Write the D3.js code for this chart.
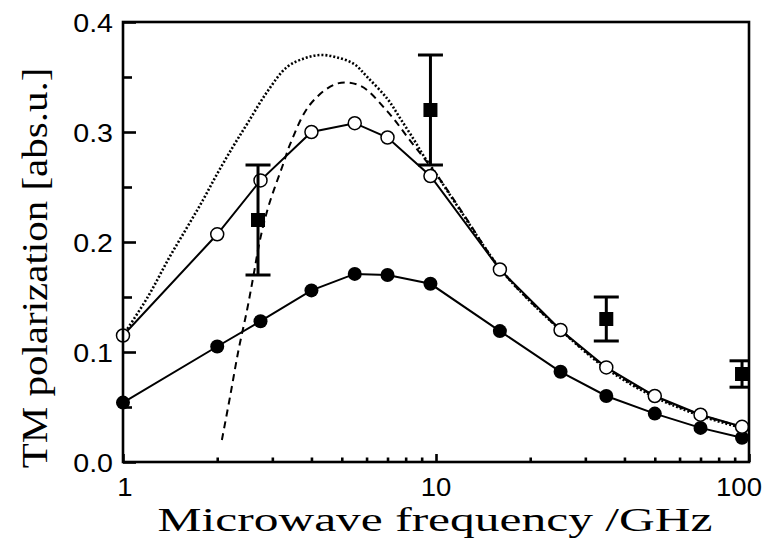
<!DOCTYPE html>
<html>
<head>
<meta charset="utf-8">
<script src="https://cdn.jsdelivr.net/npm/d3@7"></script>
<style>
  html, body { margin: 0; padding: 0; background: #fff; }
  svg { display: block; }
</style>
</head>
<body>
<svg id="chart" width="771" height="540"></svg>
<script>
// Frequencies (GHz) of the two computed series with markers
const freqCalc = [1, 2, 2.75, 4, 5.5, 7, 9.6, 16, 25, 35, 50, 70, 95];
// Open circles
const polOpen = [0.115, 0.207, 0.256, 0.300, 0.308, 0.295, 0.260, 0.175, 0.120, 0.086, 0.060, 0.043, 0.032];
// Filled circles
const polFilled = [0.054, 0.105, 0.128, 0.156, 0.171, 0.170, 0.162, 0.119, 0.082, 0.060, 0.044, 0.031, 0.022];

// Measured points with error bars
const freqMeas = [2.7, 9.6, 35, 95];
const polMeas = [0.22, 0.32, 0.13, 0.08];
const errMeas = [0.05, 0.05, 0.02, 0.012];

// Dotted model curve
const freqDot = [1, 1.2, 1.4, 1.6, 1.8, 2, 2.25, 2.5, 2.88, 3.34, 3.8, 4.27, 4.8, 5.46, 6.03, 7, 7.7, 8.5, 9.1, 10, 12, 16, 20, 25, 35, 50, 70, 95];
const polDot = [0.115, 0.150, 0.185, 0.213, 0.238, 0.262, 0.287, 0.308, 0.336, 0.359, 0.367, 0.370, 0.368, 0.362, 0.350, 0.330, 0.312, 0.293, 0.279, 0.262, 0.228, 0.176, 0.146, 0.120, 0.085, 0.059, 0.042, 0.031];

// Dashed model curve
const freqDash = [2.07, 2.2, 2.34, 2.49, 2.61, 2.74, 2.92, 3.26, 3.42, 3.96, 4.83, 5.73, 6.98, 8.28, 10, 12, 16, 20, 25, 35, 50, 70, 95];
const polDash = [0.020, 0.060, 0.102, 0.138, 0.169, 0.202, 0.233, 0.272, 0.289, 0.325, 0.344, 0.342, 0.319, 0.292, 0.262, 0.229, 0.176, 0.146, 0.120, 0.086, 0.060, 0.043, 0.032];

// Axis ticks
const yMajor = [0.0, 0.1, 0.2, 0.3, 0.4];
const yMinor = [0.05, 0.15, 0.25, 0.35];
const xMajor = [1, 10, 100];
const xMinor = [2, 3, 4, 5, 6, 7, 8, 9, 20, 30, 40, 50, 60, 70, 80, 90];
const xTickLabels = ["1", "10", "100"];
const yTickLabels = ["0.0", "0.1", "0.2", "0.3", "0.4"];

const W = 771, H = 540;
const m = { left: 123, top: 22, right: 22, bottom: 78 };
const svg = d3.select("#chart");

const x = d3.scaleLog().domain([1, 100]).range([m.left, W - m.right]);
const y = d3.scaleLinear().domain([0, 0.4]).range([H - m.bottom, m.top]);

svg.append("defs").append("clipPath").attr("id", "plotclip")
  .append("rect")
  .attr("x", m.left).attr("y", m.top)
  .attr("width", W - m.left - m.right).attr("height", H - m.top - m.bottom);

const plot = svg.append("g");

// Model curves
const curve = d3.line().curve(d3.curveCatmullRom.alpha(0.5))
  .x(d => x(d[0])).y(d => y(d[1]));

plot.append("path")
  .attr("d", curve(freqDot.map((f, i) => [f, polDot[i]])))
  .attr("fill", "none").attr("stroke", "#000")
  .attr("stroke-width", 2.6).attr("stroke-dasharray", "2,2");

plot.append("path")
  .attr("d", curve(freqDash.map((f, i) => [f, polDash[i]])))
  .attr("fill", "none").attr("stroke", "#000")
  .attr("stroke-width", 2).attr("stroke-dasharray", "7,5");

// Series with markers, joined by straight segments
const seg = d3.line().x(d => x(d[0])).y(d => y(d[1]));
const filledData = freqCalc.map((f, i) => [f, polFilled[i]]);
const openData = freqCalc.map((f, i) => [f, polOpen[i]]);

plot.append("path").attr("d", seg(filledData))
  .attr("fill", "none").attr("stroke", "#000").attr("stroke-width", 2);
plot.append("path").attr("d", seg(openData))
  .attr("fill", "none").attr("stroke", "#000").attr("stroke-width", 2);

plot.selectAll("circle.filled").data(filledData).join("circle")
  .attr("class", "filled")
  .attr("cx", d => x(d[0])).attr("cy", d => y(d[1])).attr("r", 7)
  .attr("fill", "#000");

plot.selectAll("circle.open").data(openData).join("circle")
  .attr("class", "open")
  .attr("cx", d => x(d[0])).attr("cy", d => y(d[1])).attr("r", 6.5)
  .attr("fill", "#fff").attr("stroke", "#000").attr("stroke-width", 1.5);

// Measured points with error bars
const meas = svg.append("g").attr("clip-path", "url(#plotclip)");
const measData = freqMeas.map((f, i) => ({ f, v: polMeas[i], e: errMeas[i] }));
const cap = 12.5, sq = 14;
measData.forEach(d => {
  const cx = x(d.f);
  meas.append("line")
    .attr("x1", cx).attr("x2", cx)
    .attr("y1", y(d.v - d.e)).attr("y2", y(d.v + d.e))
    .attr("stroke", "#000").attr("stroke-width", 3);
  [d.v - d.e, d.v + d.e].forEach(v => {
    meas.append("line")
      .attr("x1", cx - cap).attr("x2", cx + cap)
      .attr("y1", y(v)).attr("y2", y(v))
      .attr("stroke", "#000").attr("stroke-width", 3);
  });
  meas.append("rect")
    .attr("x", cx - sq / 2).attr("y", y(d.v) - sq / 2)
    .attr("width", sq).attr("height", sq).attr("fill", "#000");
});

// Frame
const axes = svg.append("g").attr("stroke", "#000").attr("stroke-width", 2.6);
axes.append("rect")
  .attr("x", m.left).attr("y", m.top)
  .attr("width", W - m.left - m.right).attr("height", H - m.top - m.bottom)
  .attr("fill", "none");

// Inward ticks
const yAxis = d3.axisRight(y).tickValues(yMajor).tickSize(13).tickFormat("");
const yAxisMinor = d3.axisRight(y).tickValues(yMinor).tickSize(9).tickFormat("");
const xAxis = d3.axisTop(x).tickValues(xMajor).tickSize(8).tickFormat("");
const xAxisMinor = d3.axisTop(x).tickValues(xMinor).tickSize(4.5).tickFormat("");

[[yAxis, `translate(${m.left},0)`], [yAxisMinor, `translate(${m.left},0)`],
 [xAxis, `translate(0,${H - m.bottom})`], [xAxisMinor, `translate(0,${H - m.bottom})`]]
  .forEach(([ax, tr]) => {
    const g = svg.append("g").attr("transform", tr).call(ax);
    g.select(".domain").remove();
    g.selectAll("line").attr("stroke", "#000").attr("stroke-width", 2.6);
  });

// Tick labels
const labelFont = "'Liberation Sans', Arial, sans-serif";
svg.append("g").selectAll("text").data(yMajor).join("text")
  .attr("x", 0).attr("y", 0)
  .attr("transform", d => `translate(113,${y(d) + 9.5}) scale(1.1,1)`)
  .attr("text-anchor", "end")
  .attr("font-family", labelFont).attr("font-size", 26)
  .text((d, i) => yTickLabels[i]);

svg.append("g").selectAll("text").data(xMajor).join("text")
  .attr("x", 0).attr("y", 0)
  .attr("transform", d => `translate(${x(d) + (d === 1 ? 2 : d === 100 ? -10 : 0)},496) scale(1.1,1)`)
  .attr("text-anchor", "middle")
  .attr("font-family", labelFont).attr("font-size", 25)
  .text((d, i) => xTickLabels[i]);

// Axis titles
const titleFont = "'Liberation Serif', 'Times New Roman', serif";
svg.append("text")
  .attr("transform", "translate(435,531) scale(1.5,1)")
  .attr("text-anchor", "middle")
  .attr("font-family", titleFont).attr("font-size", 33)
  .text("Microwave frequency /GHz");

svg.append("text")
  .attr("transform", "translate(47,268) rotate(-90) scale(1,0.85)")
  .attr("text-anchor", "middle")
  .attr("font-family", titleFont).attr("font-size", 41)
  .text("TM polarization [abs.u.]");
</script>
</body>
</html>
